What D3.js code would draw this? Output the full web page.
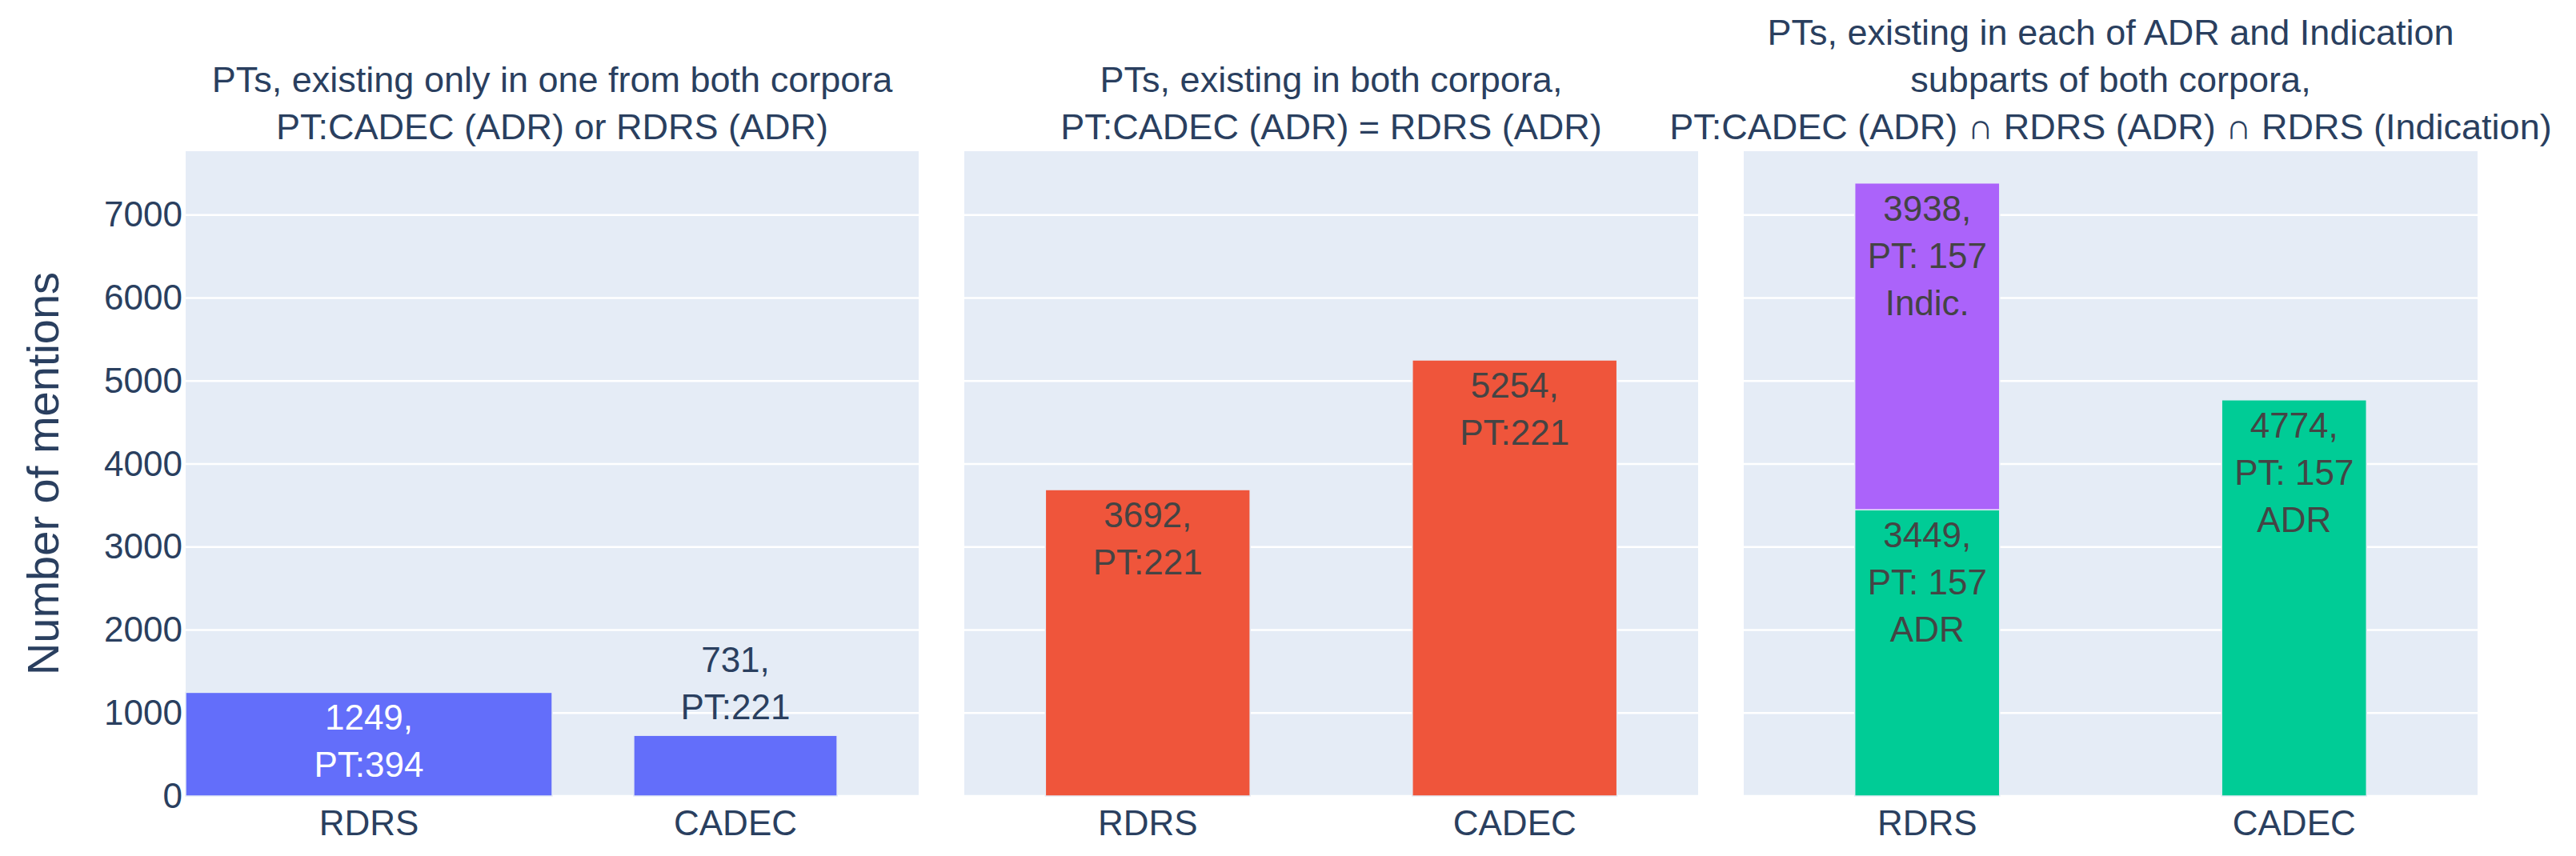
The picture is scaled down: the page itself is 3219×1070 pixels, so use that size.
<!DOCTYPE html>
<html>
<head>
<meta charset="utf-8">
<script src="https://cdn.jsdelivr.net/npm/d3@7"></script>
<style>
  body { margin: 0; background: #fff; }
  text { font-family: "Liberation Sans", Arial, sans-serif; }
</style>
</head>
<body>
<div id="chartContainer"></div>
<script>
const width = 3219;
const height = 1070;
const plotTop = 189;
const plotBottom = 995;
const panelX = [[232, 1148], [1205, 2122], [2179, 3096]];

// data
const categories = ["RDRS", "CADEC"];
const yTicks = [0, 1000, 2000, 3000, 4000, 5000, 6000, 7000];
const yMax = 7770;

const titles = [
    ["PTs, existing only in one from both corpora", "PT:CADEC (ADR) or RDRS (ADR)"],
    ["PTs, existing in both corpora,", "PT:CADEC (ADR) = RDRS (ADR)"],
    ["PTs, existing in each of ADR and Indication", "subparts of both corpora,", "PT:CADEC (ADR) \u2229 RDRS (ADR) \u2229 RDRS (Indication)"]
];

const onlyOneValues = [1249, 731];
const onlyOnePT = [394, 221];
const bothValues = [3692, 5254];
const bothPT = [221, 221];
const adrValues = [3449, 4774];
const indicValues = [3938, 0];
const sharedPT = [157, 157];

const barWidths = [[1.0, 0.555], [0.558, 0.558], [0.395, 0.395]];

const colors = {
    onlyOne: "#636EFA",
    both: "#EF553B",
    adr: "#00CC96",
    indic: "#AB63FA"
};

const svg = d3.select("#chartContainer")
    .append("svg")
    .attr("width", width)
    .attr("height", height);

const yScale = d3.scaleLinear()
    .domain([0, yMax])
    .range([plotBottom, plotTop]);

// series per panel: list of stacked layers
const panels = [
    [{values: onlyOneValues, color: colors.onlyOne, labels: onlyOneValues.map((v, i) => [v + ",", "PT:" + onlyOnePT[i]]), inColor: "#ffffff"}],
    [{values: bothValues, color: colors.both, labels: bothValues.map((v, i) => [v + ",", "PT:" + bothPT[i]]), inColor: "#444444"}],
    [
        {values: adrValues, color: colors.adr, labels: adrValues.map((v, i) => [v + ",", "PT: " + sharedPT[i], "ADR"]), inColor: "#444444"},
        {values: indicValues, color: colors.indic, labels: indicValues.map((v, i) => [v + ",", "PT: " + sharedPT[i], "Indic."]), inColor: "#444444"}
    ]
];

const lineH = 59;

panels.forEach(function(layers, p) {
    const [x0, x1] = panelX[p];
    const xScale = d3.scaleBand().domain(categories).range([x0, x1]).padding(0);
    const g = svg.append("g");

    g.append("rect")
        .attr("x", x0).attr("y", plotTop)
        .attr("width", x1 - x0).attr("height", plotBottom - plotTop)
        .attr("fill", "#E5ECF6");

    g.selectAll(".grid")
        .data(yTicks)
        .join("line")
        .attr("x1", x0).attr("x2", x1)
        .attr("y1", d => yScale(d)).attr("y2", d => yScale(d))
        .attr("stroke", "#fff")
        .attr("stroke-width", 2.5);

    const base = categories.map(() => 0);
    layers.forEach(function(layer) {
        categories.forEach(function(c, i) {
            const v = layer.values[i];
            if (!v) return;
            const bw = xScale.bandwidth() * barWidths[p][i];
            const cx = xScale(c) + xScale.bandwidth() / 2;
            const yTop = yScale(base[i] + v);
            const yBot = yScale(base[i]);
            g.append("rect")
                .attr("x", cx - bw / 2).attr("y", yTop)
                .attr("width", bw).attr("height", yBot - yTop)
                .attr("fill", layer.color)
                .attr("stroke", "#E5ECF6")
                .attr("stroke-width", 1.5);

            const lines = layer.labels[i];
            const inside = (yBot - yTop) > lines.length * lineH - 10;
            const firstY = inside ? yTop + 47 : yTop - 20 - (lines.length - 1) * lineH;
            const t = g.append("text")
                .attr("text-anchor", "middle")
                .attr("font-size", 44)
                .attr("fill", inside ? layer.inColor : "#2a3f5f");
            lines.forEach(function(s, k) {
                t.append("tspan").attr("x", cx).attr("y", firstY + k * lineH).text(s);
            });
            base[i] += v;
        });
    });

    // x axis labels
    const xAxis = g.append("g")
        .attr("transform", `translate(0, ${plotBottom})`)
        .call(d3.axisBottom(xScale).tickSize(0).tickPadding(18));
    xAxis.select(".domain").remove();
    xAxis.selectAll("text")
        .attr("font-size", 44)
        .attr("fill", "#2a3f5f")
        .attr("font-family", "Liberation Sans, Arial, sans-serif");

    if (p === 0) {
        const yAxis = g.append("g")
            .attr("transform", `translate(${x0}, 0)`)
            .call(d3.axisLeft(yScale).tickValues(yTicks).tickSize(0).tickPadding(4).tickFormat(d3.format("d")));
        yAxis.select(".domain").remove();
        yAxis.selectAll("text")
            .attr("font-size", 44)
            .attr("fill", "#2a3f5f")
            .attr("font-family", "Liberation Sans, Arial, sans-serif");
    }

    // subplot title
    const tt = svg.append("text")
        .attr("text-anchor", "middle")
        .attr("font-size", 45)
        .attr("fill", "#2a3f5f");
    const n = titles[p].length;
    titles[p].forEach(function(s, k) {
        tt.append("tspan")
            .attr("x", (x0 + x1) / 2)
            .attr("y", 174 - (n - 1 - k) * lineH)
            .text(s);
    });
});

svg.append("text")
    .attr("transform", `translate(73, ${(plotTop + plotBottom) / 2}) rotate(-90)`)
    .attr("text-anchor", "middle")
    .attr("font-size", 56)
    .attr("fill", "#2a3f5f")
    .text("Number of mentions");
</script>
</body>
</html>
